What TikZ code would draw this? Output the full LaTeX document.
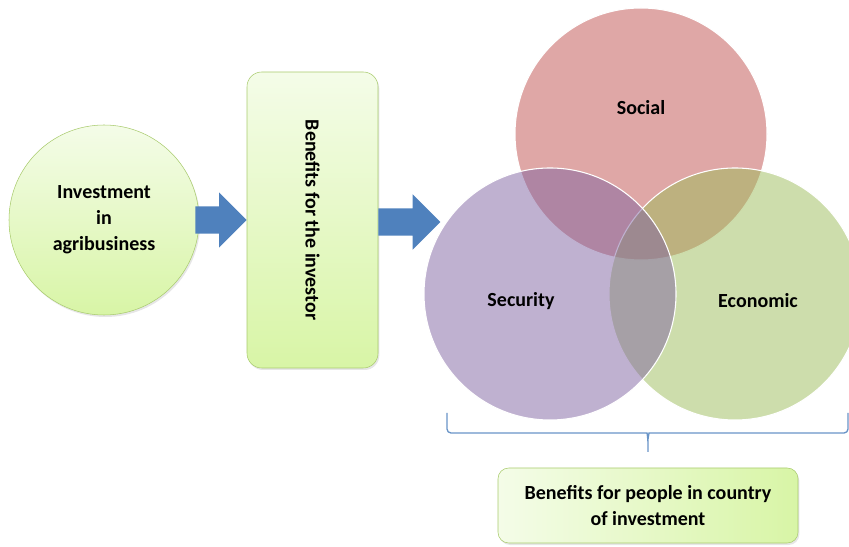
\documentclass[tikz,border=0pt]{standalone}
\usepackage{fontspec}
\setmainfont{Carlito}
\usetikzlibrary{shapes.arrows,shadows,calc}

\definecolor{leafline}{HTML}{A9CB6E}
\definecolor{leaflight}{HTML}{F4FCE8}
\definecolor{leafdark}{HTML}{D8F5A6}
\definecolor{arrowblue}{HTML}{4F81BD}
\definecolor{socialred}{HTML}{C0504D}
\definecolor{secpurple}{HTML}{8064A2}
\definecolor{econgreen}{HTML}{9BBB59}

\tikzset{
  greenbox/.style={draw=leafline, thin,
    drop shadow={shadow xshift=1pt,shadow yshift=-1.5pt,opacity=0.2}},
  blockarrow/.style={single arrow, fill=arrowblue, inner xsep=0pt, inner ysep=10pt,
    outer sep=0pt, single arrow head extend=10.5pt},
  venn/.style={circle, minimum size=189pt, draw=white, line width=0.8pt, fill opacity=0.5},
  lbl/.style={font=\bfseries\fontsize{15}{19.5}\selectfont, align=center, text=black},
  bracket/.style={draw=arrowblue!85, line width=1pt, rounded corners=3pt}
}

\begin{document}
\begin{tikzpicture}[x=0.75pt,y=0.75pt]
  \useasboundingbox (0,0) rectangle (849,546);

  % investment side
  \node[greenbox, circle, minimum size=142.5pt, top color=leaflight, bottom color=leafdark, lbl]
    (inv) at (104,326) {Investment\\in\\agribusiness};
  \node[greenbox, rounded corners=11pt, minimum width=98.25pt, minimum height=222pt,
    top color=leaflight, bottom color=leafdark] (invben) at (312.5,326) {};
  \node[lbl, rotate=-90] at (invben) {Benefits for the investor};

  \node[blockarrow, minimum height=38.5pt, anchor=tip] (arr1) at (invben.west) {};
  \node[blockarrow, minimum height=46.5pt, anchor=tail] (arr2) at ($(invben.east)+(0,-2)$) {};

  % three circles
  \node[venn, fill=socialred] (social) at (641,412) {};
  \begin{scope}
    \clip (0,0) rectangle (849,546);
    \node[venn, fill=econgreen] (econ) at (735,252) {};
  \end{scope}
  \node[venn, fill=secpurple] (secur) at (550,252) {};

  \node[lbl] at ($(social)+(0,26)$) {Social};
  \node[lbl] at ($(secur)+(-29,-7)$) {Security};
  \node[lbl] at ($(econ)+(23,-7)$) {Economic};

  % brace under the circles
  \coordinate (bl) at (447,133);
  \coordinate (br) at (848,133);
  \coordinate (bt) at (648,94);
  \draw[bracket] (bl) |- ($(bt)+(-5,19)$) .. controls ($(bt)+(-1,19)$) .. ($(bt)+(0,13)$) -- (bt);
  \draw[bracket] (br) |- ($(bt)+(5,19)$) .. controls ($(bt)+(1,19)$) .. ($(bt)+(0,13)$);

  \node[greenbox, rounded corners=8pt, minimum width=225pt, minimum height=56.25pt,
    left color=leaflight, right color=leafdark, lbl]
    (people) at (648,40.5) {Benefits for people in country\\of investment};
\end{tikzpicture}
\end{document}
